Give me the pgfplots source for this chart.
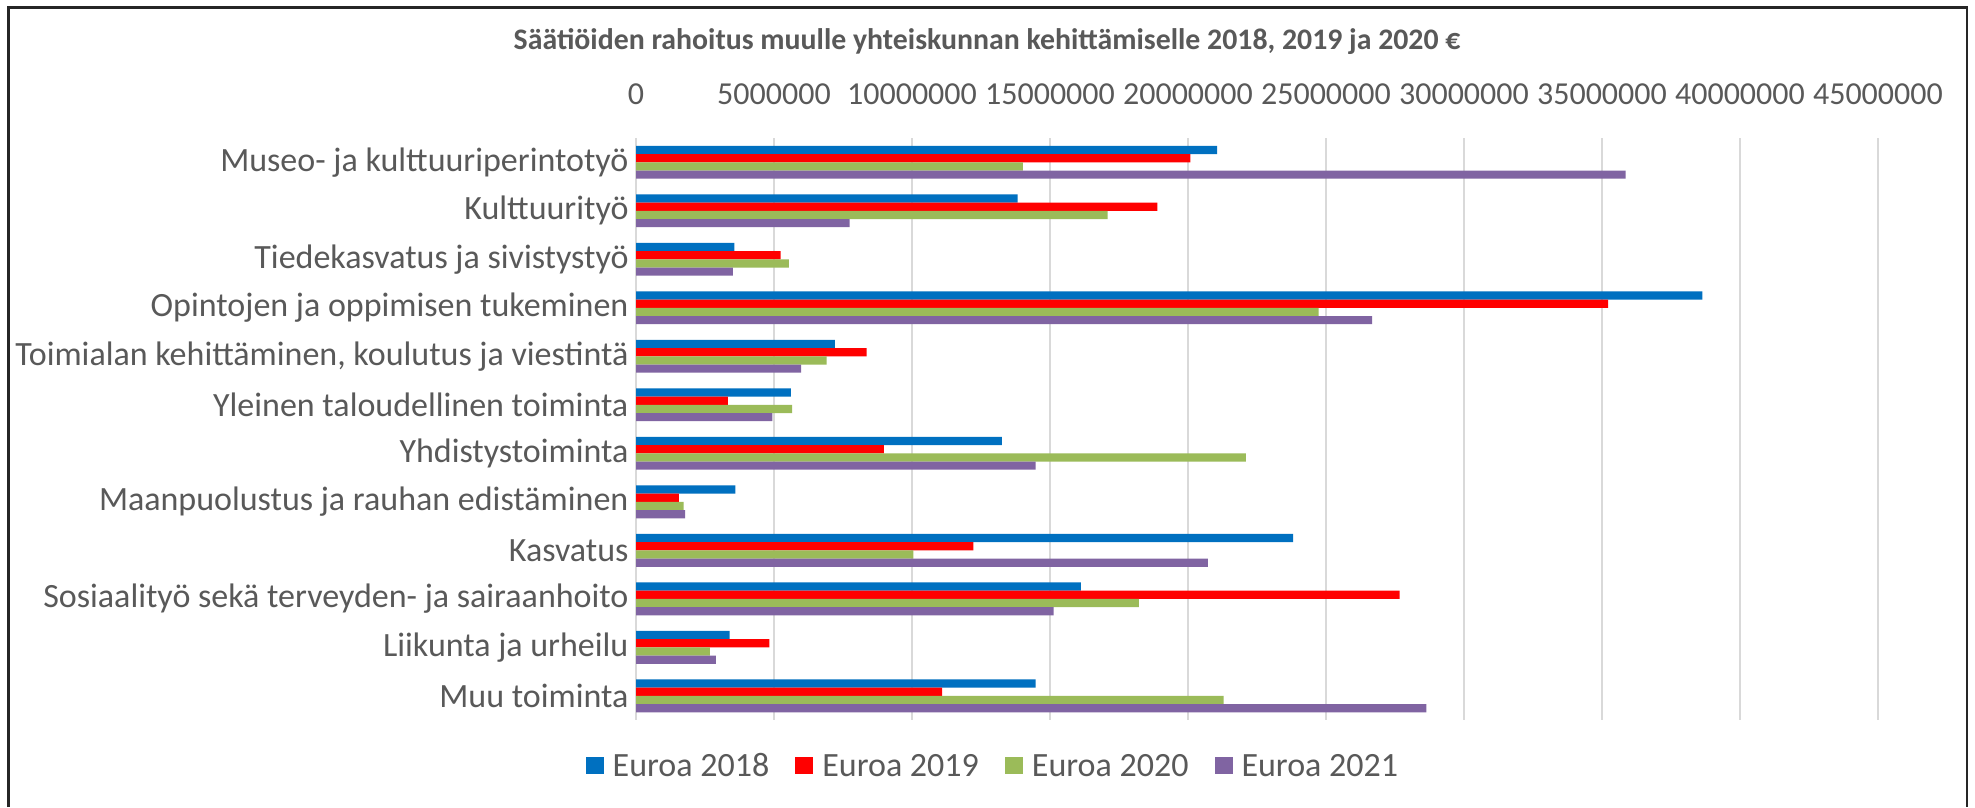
\documentclass[border=0pt]{standalone}
\usepackage{pgfplots}
\pgfplotsset{compat=1.18}
\usepackage{fontspec}
\setmainfont{Carlito}
\definecolor{txt}{HTML}{595959}
\definecolor{c1}{HTML}{0070C0}
\definecolor{c2}{HTML}{FF0000}
\definecolor{c3}{HTML}{9BBB59}
\definecolor{c4}{HTML}{8064A2}
\definecolor{grd}{HTML}{D9D9D9}
\begin{document}
\begin{tikzpicture}
\useasboundingbox (0pt,0pt) rectangle (1975pt,807pt);
\fill[white] (0pt,0pt) rectangle (1975pt,807pt);
\draw[line width=2.5pt, black!85] (8.5pt,0pt) -- (8.5pt,799.5pt) -- (1967pt,799.5pt) -- (1967pt,0pt);
\node[text=txt, font=\fontsize{29.8}{35}\selectfont\bfseries] at (987pt,765pt) {Säätiöiden rahoitus muulle yhteiskunnan kehittämiselle 2018, 2019 ja 2020 €};
\begin{axis}[
  at={(636pt,87pt)}, anchor=south west,
  width=1242pt, height=582pt, scale only axis,
  xbar, bar width=0.17,
  xmin=0, xmax=45000000, ymin=-0.5, ymax=11.5, y dir=reverse,
  ytick={0,1,2,3,4,5,6,7,8,9,10,11},
  yticklabels={Museo- ja kulttuuriperintotyö, Kulttuurityö, Tiedekasvatus ja sivistystyö, Opintojen ja oppimisen tukeminen, {Toimialan kehittäminen, koulutus ja viestintä}, Yleinen taloudellinen toiminta, Yhdistystoiminta, Maanpuolustus ja rauhan edistäminen, Kasvatus, Sosiaalityö sekä terveyden- ja sairaanhoito, Liikunta ja urheilu, Muu toiminta},
  xtick={0,5000000,10000000,15000000,20000000,25000000,30000000,35000000,40000000,45000000},
  scaled x ticks=false,
  xticklabel pos=upper,
  /pgf/number format/.cd, fixed, precision=0, 1000 sep={}, assume math mode=true, /pgfplots/.cd,
  xticklabel style={anchor=center, yshift=44pt, text=txt, font=\fontsize{32}{38}\selectfont},
  yticklabel style={anchor=east, xshift=-4pt, text=txt, font=\fontsize{34}{40}\selectfont},
  major tick length=0pt,
  axis line style={draw=none},
  xmajorgrids, grid style={grd, line width=1.3pt},
  legend style={at={(0.2874,-0.079)}, anchor=center, draw=none, fill=none,
    legend columns=4, font=\fontsize{34}{40}\selectfont, text=txt,
    /tikz/every odd column/.append style={column sep=7pt},
    /tikz/every even column/.append style={column sep=24pt}},
  legend image code/.code={\path[#1, draw=none] (0pt,-8.5pt) rectangle (18pt,8.5pt);},
]
\addplot[fill=c1, draw=none, bar shift=-0.255] coordinates {
(21060000,0) (13830000,1) (3560000,2) (38640000,3) (7210000,4) (5610000,5) (13260000,6) (3600000,7) (23810000,8) (16120000,9) (3390000,10) (14480000,11)};
\addplot[fill=c2, draw=none, bar shift=-0.085] coordinates {
(20090000,0) (18890000,1) (5240000,2) (35220000,3) (8360000,4) (3330000,5) (8980000,6) (1550000,7) (12220000,8) (27670000,9) (4830000,10) (11090000,11)};
\addplot[fill=c3, draw=none, bar shift=0.085] coordinates {
(14020000,0) (17090000,1) (5540000,2) (24730000,3) (6910000,4) (5660000,5) (22100000,6) (1730000,7) (10050000,8) (18220000,9) (2680000,10) (21290000,11)};
\addplot[fill=c4, draw=none, bar shift=0.255] coordinates {
(35860000,0) (7740000,1) (3510000,2) (26670000,3) (5980000,4) (4940000,5) (14480000,6) (1780000,7) (20720000,8) (15130000,9) (2890000,10) (28640000,11)};
\legend{Euroa 2018, Euroa 2019, Euroa 2020, Euroa 2021}
\end{axis}
\end{tikzpicture}
\end{document}
